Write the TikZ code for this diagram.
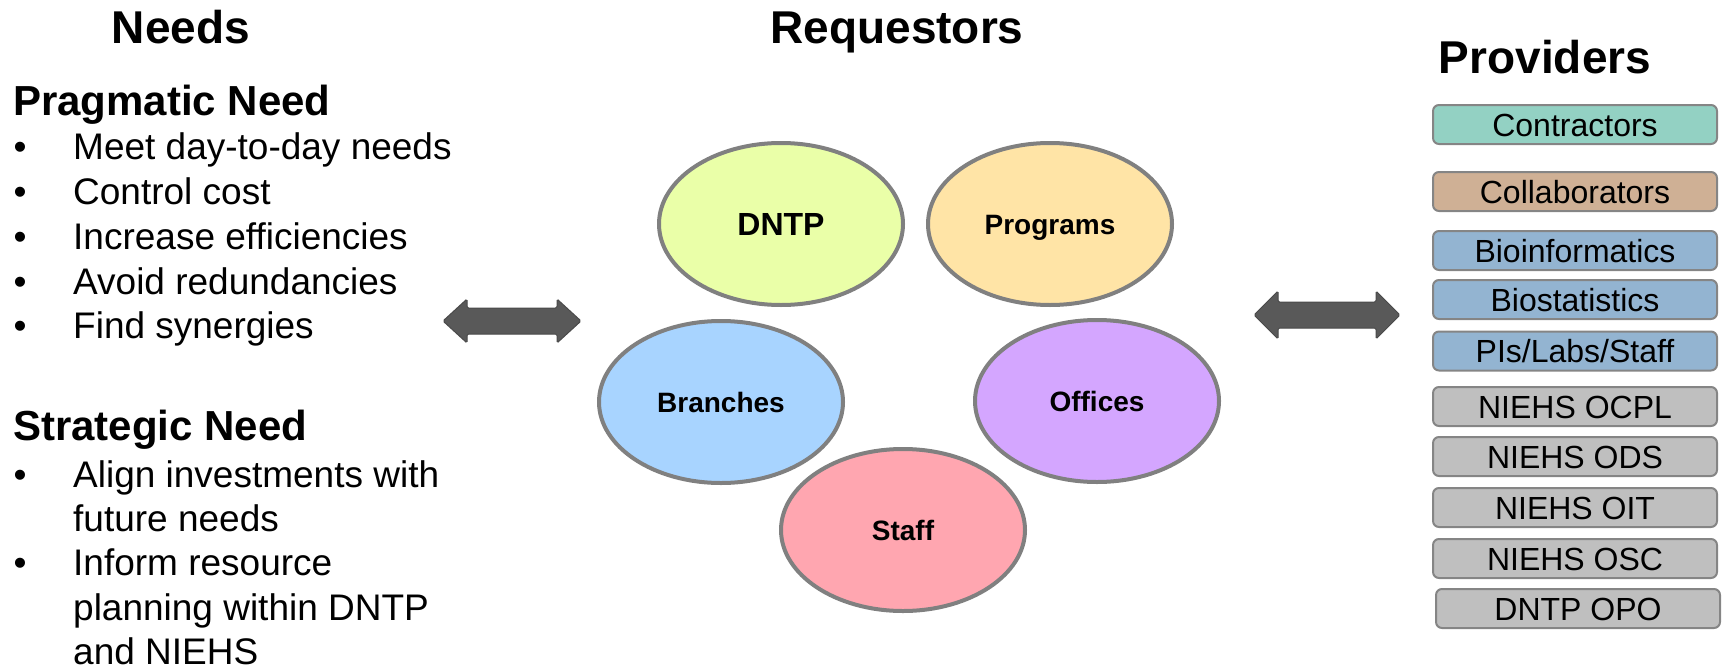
\documentclass[tikz,border=0pt]{standalone}
\usepackage{fontspec}
\setmainfont{Liberation Sans}
\usetikzlibrary{shapes.geometric}
\definecolor{ellgray}{HTML}{808080}
\definecolor{boxgray}{HTML}{858585}
\definecolor{arrgray}{HTML}{595959}
\definecolor{arrdark}{HTML}{4A4A4A}
\definecolor{cDNTP}{HTML}{EAFFA8}
\definecolor{cProg}{HTML}{FFE4A6}
\definecolor{cBran}{HTML}{A8D4FF}
\definecolor{cOffi}{HTML}{D4A6FF}
\definecolor{cStaf}{HTML}{FFA6B0}
\definecolor{cCont}{HTML}{93D1C3}
\definecolor{cColl}{HTML}{CFB095}
\definecolor{cBlue}{HTML}{93B4D1}
\definecolor{cGray}{HTML}{BFBFBF}
\begin{document}
\begin{tikzpicture}[x=1pt,y=-1pt,
  title/.style={font=\fontsize{46}{46}\selectfont\bfseries, inner sep=0pt, anchor=base},
  head/.style={font=\fontsize{42}{42}\selectfont\bfseries, inner sep=0pt, anchor=base west},
  item/.style={font=\fontsize{37}{37}\selectfont, inner sep=0pt, anchor=base west},
  bul/.style={font=\fontsize{37}{37}\selectfont, inner sep=0pt, anchor=base},
  req/.style={ellipse, draw=ellgray, line width=4pt, minimum width=244pt, minimum height=162pt,
    inner sep=0pt, font=\fontsize{28}{28}\selectfont\bfseries, text height=20pt, text depth=0pt},
  prov/.style={rounded corners=6pt, draw=boxgray, line width=2pt, minimum width=284pt,
    minimum height=39pt, inner sep=0pt, font=\fontsize{32}{32}\selectfont, text height=23pt, text depth=0pt},
  bigarrow/.style={fill=arrgray, draw=arrdark, line width=1pt, rounded corners=1.5pt}]
\useasboundingbox (0,0) rectangle (1723,669);

% titles
\node[title] (tNeeds) at (181,44) {Needs};
\node[title] (tReq) at (897,44) {Requestors};
\node[title] (tProv) at (1545,74) {Providers};

% left text
\node[head] (hPrag) at (13,115) {Pragmatic Need};
\foreach \y/\t [count=\i] in {159/Meet day-to-day needs, 204/Control cost, 249/Increase efficiencies, 294/Avoid redundancies, 338/Find synergies}{
  \node[bul] (bp\i) at (20,\y) {•};
  \node[item] (ip\i) at (73,\y) {\t};
}
\node[head] (hStrat) at (13,440) {Strategic Need};
\node[bul] (bs1) at (20,487) {•};
\node[item] (is1) at (73,487) {Align investments with};
\node[item] (is1b) at (73,531) {future needs};
\node[bul] (bs2) at (20,575) {•};
\node[item] (is2) at (73,575) {Inform resource};
\node[item] (is2b) at (73,620) {planning within DNTP};
\node[item] (is2c) at (73,664) {and NIEHS};

% requestors
\node[req, fill=cDNTP, font=\fontsize{32}{32}\selectfont\bfseries, text height=23pt] (dntp) at (781,224) {DNTP};
\node[req, fill=cProg] (prog) at (1050,224) {Programs};
\node[req, fill=cBran] (bran) at (721,402) {Branches};
\node[req, fill=cOffi] (offi) at (1097,401) {Offices};
\node[req, fill=cStaf] (staf) at (903,530) {Staff};

% arrows
\coordinate (la) at (443,321);
\coordinate (ra) at (1254,315);
\draw[bigarrow] (la) -- ++(24,-22) -- ++(0,9) -- ++(90,0) -- ++(0,-9) -- ++(24,22)
  -- ++(-24,22) -- ++(0,-9) -- ++(-90,0) -- ++(0,9) -- cycle;
\draw[bigarrow] (ra) -- ++(24,-24) -- ++(0,11) -- ++(98,0) -- ++(0,-11) -- ++(24,24)
  -- ++(-24,24) -- ++(0,-11) -- ++(-98,0) -- ++(0,11) -- cycle;

% providers
\node[prov, fill=cCont] (p1) at (1575,124.5) {Contractors};
\node[prov, fill=cColl] (p2) at (1575,191.5) {Collaborators};
\node[prov, fill=cBlue] (p3) at (1575,250.5) {Bioinformatics};
\node[prov, fill=cBlue] (p4) at (1575,299.5) {Biostatistics};
\node[prov, fill=cBlue] (p5) at (1575,351) {PIs/Labs/Staff};
\node[prov, fill=cGray] (p6) at (1575,406.5) {NIEHS OCPL};
\node[prov, fill=cGray] (p7) at (1575,456.5) {NIEHS ODS};
\node[prov, fill=cGray] (p8) at (1575,507.5) {NIEHS OIT};
\node[prov, fill=cGray] (p9) at (1575,558.5) {NIEHS OSC};
\node[prov, fill=cGray] (p10) at (1578,608.5) {DNTP OPO};
\end{tikzpicture}
\end{document}
